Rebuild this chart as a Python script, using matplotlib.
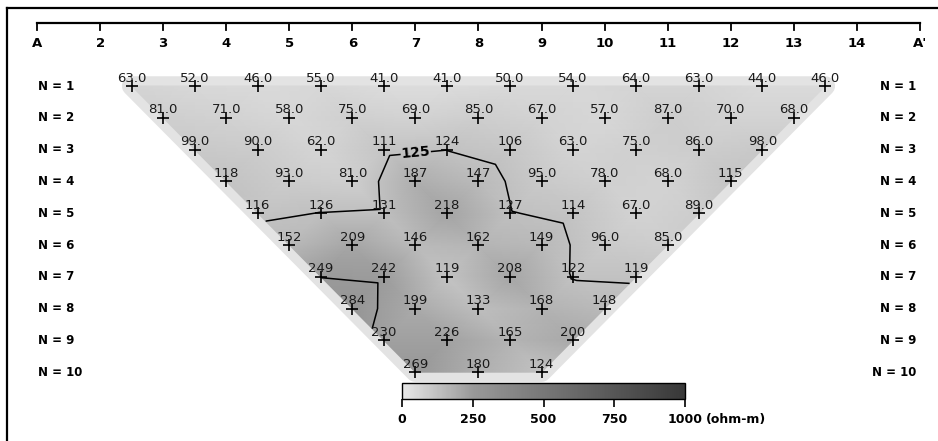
import numpy as np
import matplotlib
matplotlib.use("Agg")
import matplotlib.pyplot as plt
import matplotlib.tri as mtri
from matplotlib.colors import LinearSegmentedColormap, Normalize
from matplotlib.cm import ScalarMappable
from matplotlib.lines import Line2D
from matplotlib.patches import Polygon
from matplotlib.path import Path

# Electrode stations along the line A - A'
electrode_labels = ["A", "2", "3", "4", "5", "6", "7", "8", "9", "10",
                    "11", "12", "13", "14", "A'"]

# Apparent resistivity (ohm-m) for each dipole separation N
n1 = [63.0, 52.0, 46.0, 55.0, 41.0, 41.0, 50.0, 54.0, 64.0, 63.0, 44.0, 46.0]
n2 = [81.0, 71.0, 58.0, 75.0, 69.0, 85.0, 67.0, 57.0, 87.0, 70.0, 68.0]
n3 = [99.0, 90.0, 62.0, 111, 124, 106, 63.0, 75.0, 86.0, 98.0]
n4 = [118, 93.0, 81.0, 187, 147, 95.0, 78.0, 68.0, 115]
n5 = [116, 126, 131, 218, 127, 114, 67.0, 89.0]
n6 = [152, 209, 146, 162, 149, 96.0, 85.0]
n7 = [249, 242, 119, 208, 122, 119]
n8 = [284, 199, 133, 168, 148]
n9 = [230, 226, 165, 200]
n10 = [269, 180, 124]
rows = [n1, n2, n3, n4, n5, n6, n7, n8, n9, n10]

cbar_ticks = [0, 250, 500, 750, 1000]
contour_levels = [125, 250]

W, H = 938, 441
fig = plt.figure(figsize=(W / 100, H / 100), dpi=100)
ax = fig.add_axes([0, 0, 1, 1])

# screen layout: electrode 1 at x0 px, spacing dx px; N = 1 at y0 px, spacing dy px
x0, dx = 37.0, 63.07
y0, dy = 86.0, 31.8
ax.set_xlim(1 - x0 / dx, 1 + (W - x0) / dx)
ax.set_ylim(1 + (H - y0) / dy, 1 - y0 / dy)
ax.axis("off")


def px_x(px):
    return 1 + (px - x0) / dx


def px_y(py):
    return 1 + (py - y0) / dy


# dipole-dipole plotting points
xs, ys, zs = [], [], []
left_pts, right_pts = [], []
for n, row in enumerate(rows, start=1):
    start = 2.5 + 0.5 * (n - 1)
    for k, v in enumerate(row):
        xs.append(start + k)
        ys.append(n)
        zs.append(v)
    left_pts.append((start, n))
    right_pts.append((start + len(row) - 1, n))
xs = np.array(xs, float)
ys = np.array(ys, float)
zs = np.array(zs, float)

cmap = LinearSegmentedColormap.from_list(
    "pseudo_gray",
    [(0.0, (0.91, 0.91, 0.91)), (0.25, (0.60, 0.60, 0.60)),
     (0.5, (0.47, 0.47, 0.47)), (0.75, (0.34, 0.34, 0.34)),
     (1.0, (0.22, 0.22, 0.22))])
norm = Normalize(0, 1000)

tri = mtri.Triangulation(xs, ys)

# soft fringe around the data area
hull = right_pts + left_pts[::-1]
ax.add_patch(Polygon(hull, closed=True, facecolor=(0.86, 0.86, 0.86),
                     edgecolor=(0.89, 0.89, 0.89), linewidth=14,
                     joinstyle="round", zorder=1))

ax.tripcolor(tri, zs, cmap=cmap, norm=norm, shading="gouraud", zorder=2)

cs = ax.tricontour(tri, zs, levels=contour_levels, colors="black",
                   linewidths=1.1, zorder=3)

# drop the tiny contour fragments, keep the main isolines
new_paths = []
for p in cs.get_paths():
    keep = []
    for seg in p.to_polygons(closed_only=False):
        seg = np.asarray(seg)
        if len(seg) < 2:
            continue
        d = np.diff(seg, axis=0) * np.array([dx, dy])
        length = np.hypot(d[:, 0], d[:, 1]).sum()
        if length > 90:
            keep.append(Path(seg))
    if keep:
        new_paths.append(Path.make_compound_path(*keep))
    else:
        new_paths.append(Path(np.empty((0, 2))))
cs.set_paths(new_paths)

labels = ax.clabel(cs, [125], fmt="%d", fontsize=10, manual=[(7.0, 3.0)],
                   inline=True, inline_spacing=2)
for t in labels:
    t.set_fontweight("bold")

# station crosses and value labels
ax.plot(xs, ys, linestyle="none", marker="+", markersize=8,
        markeredgewidth=1.2, color="black", zorder=4)
for x, y, v in zip(xs, ys, zs):
    txt = f"{v:.1f}" if v < 100 else f"{v:.0f}"
    ax.text(x, y - 0.25, txt, ha="center", va="center", fontsize=9.5,
            color="#1a1a1a", zorder=5)

# top electrode axis
e = np.arange(1, 16)
ya = px_y(23)
ax.plot([1, 15], [ya, ya], color="black", lw=1.6, zorder=4)
for xe, lab in zip(e, electrode_labels):
    ax.plot([xe, xe], [ya, px_y(30)], color="black", lw=1.3, zorder=4)
    ax.text(xe, px_y(43), lab, ha="center", va="center", fontsize=9.5,
            fontweight="bold")

# N labels on both sides
for n in range(1, len(rows) + 1):
    ax.text(px_x(38), n, f"N = {n}", ha="left", va="center", fontsize=8.5,
            fontweight="bold")
    ax.text(px_x(916), n, f"N = {n}", ha="right", va="center", fontsize=8.5,
            fontweight="bold")

# frame
fig.add_artist(Line2D([7 / W, 7 / W], [0, 1 - 8 / H], color="black", lw=1.6,
                      transform=fig.transFigure))
fig.add_artist(Line2D([7 / W, 1], [1 - 8 / H, 1 - 8 / H], color="black",
                      lw=1.6, transform=fig.transFigure))

# colour scale
cax = fig.add_axes([402 / W, 1 - 399 / H, (685 - 402) / W, 16 / H])
cb = fig.colorbar(ScalarMappable(norm=norm, cmap=cmap), cax=cax,
                  orientation="horizontal", ticks=cbar_ticks)
cb.outline.set_linewidth(1.0)
cax.tick_params(axis="x", length=6, width=1.2, labelsize=9, pad=4)
for t in cax.get_xticklabels():
    t.set_fontweight("bold")
fig.text(706 / W, 1 - 419 / H, "(ohm-m)", ha="left", va="center",
         fontsize=9, fontweight="bold")

fig.savefig("out.png", dpi=100)
